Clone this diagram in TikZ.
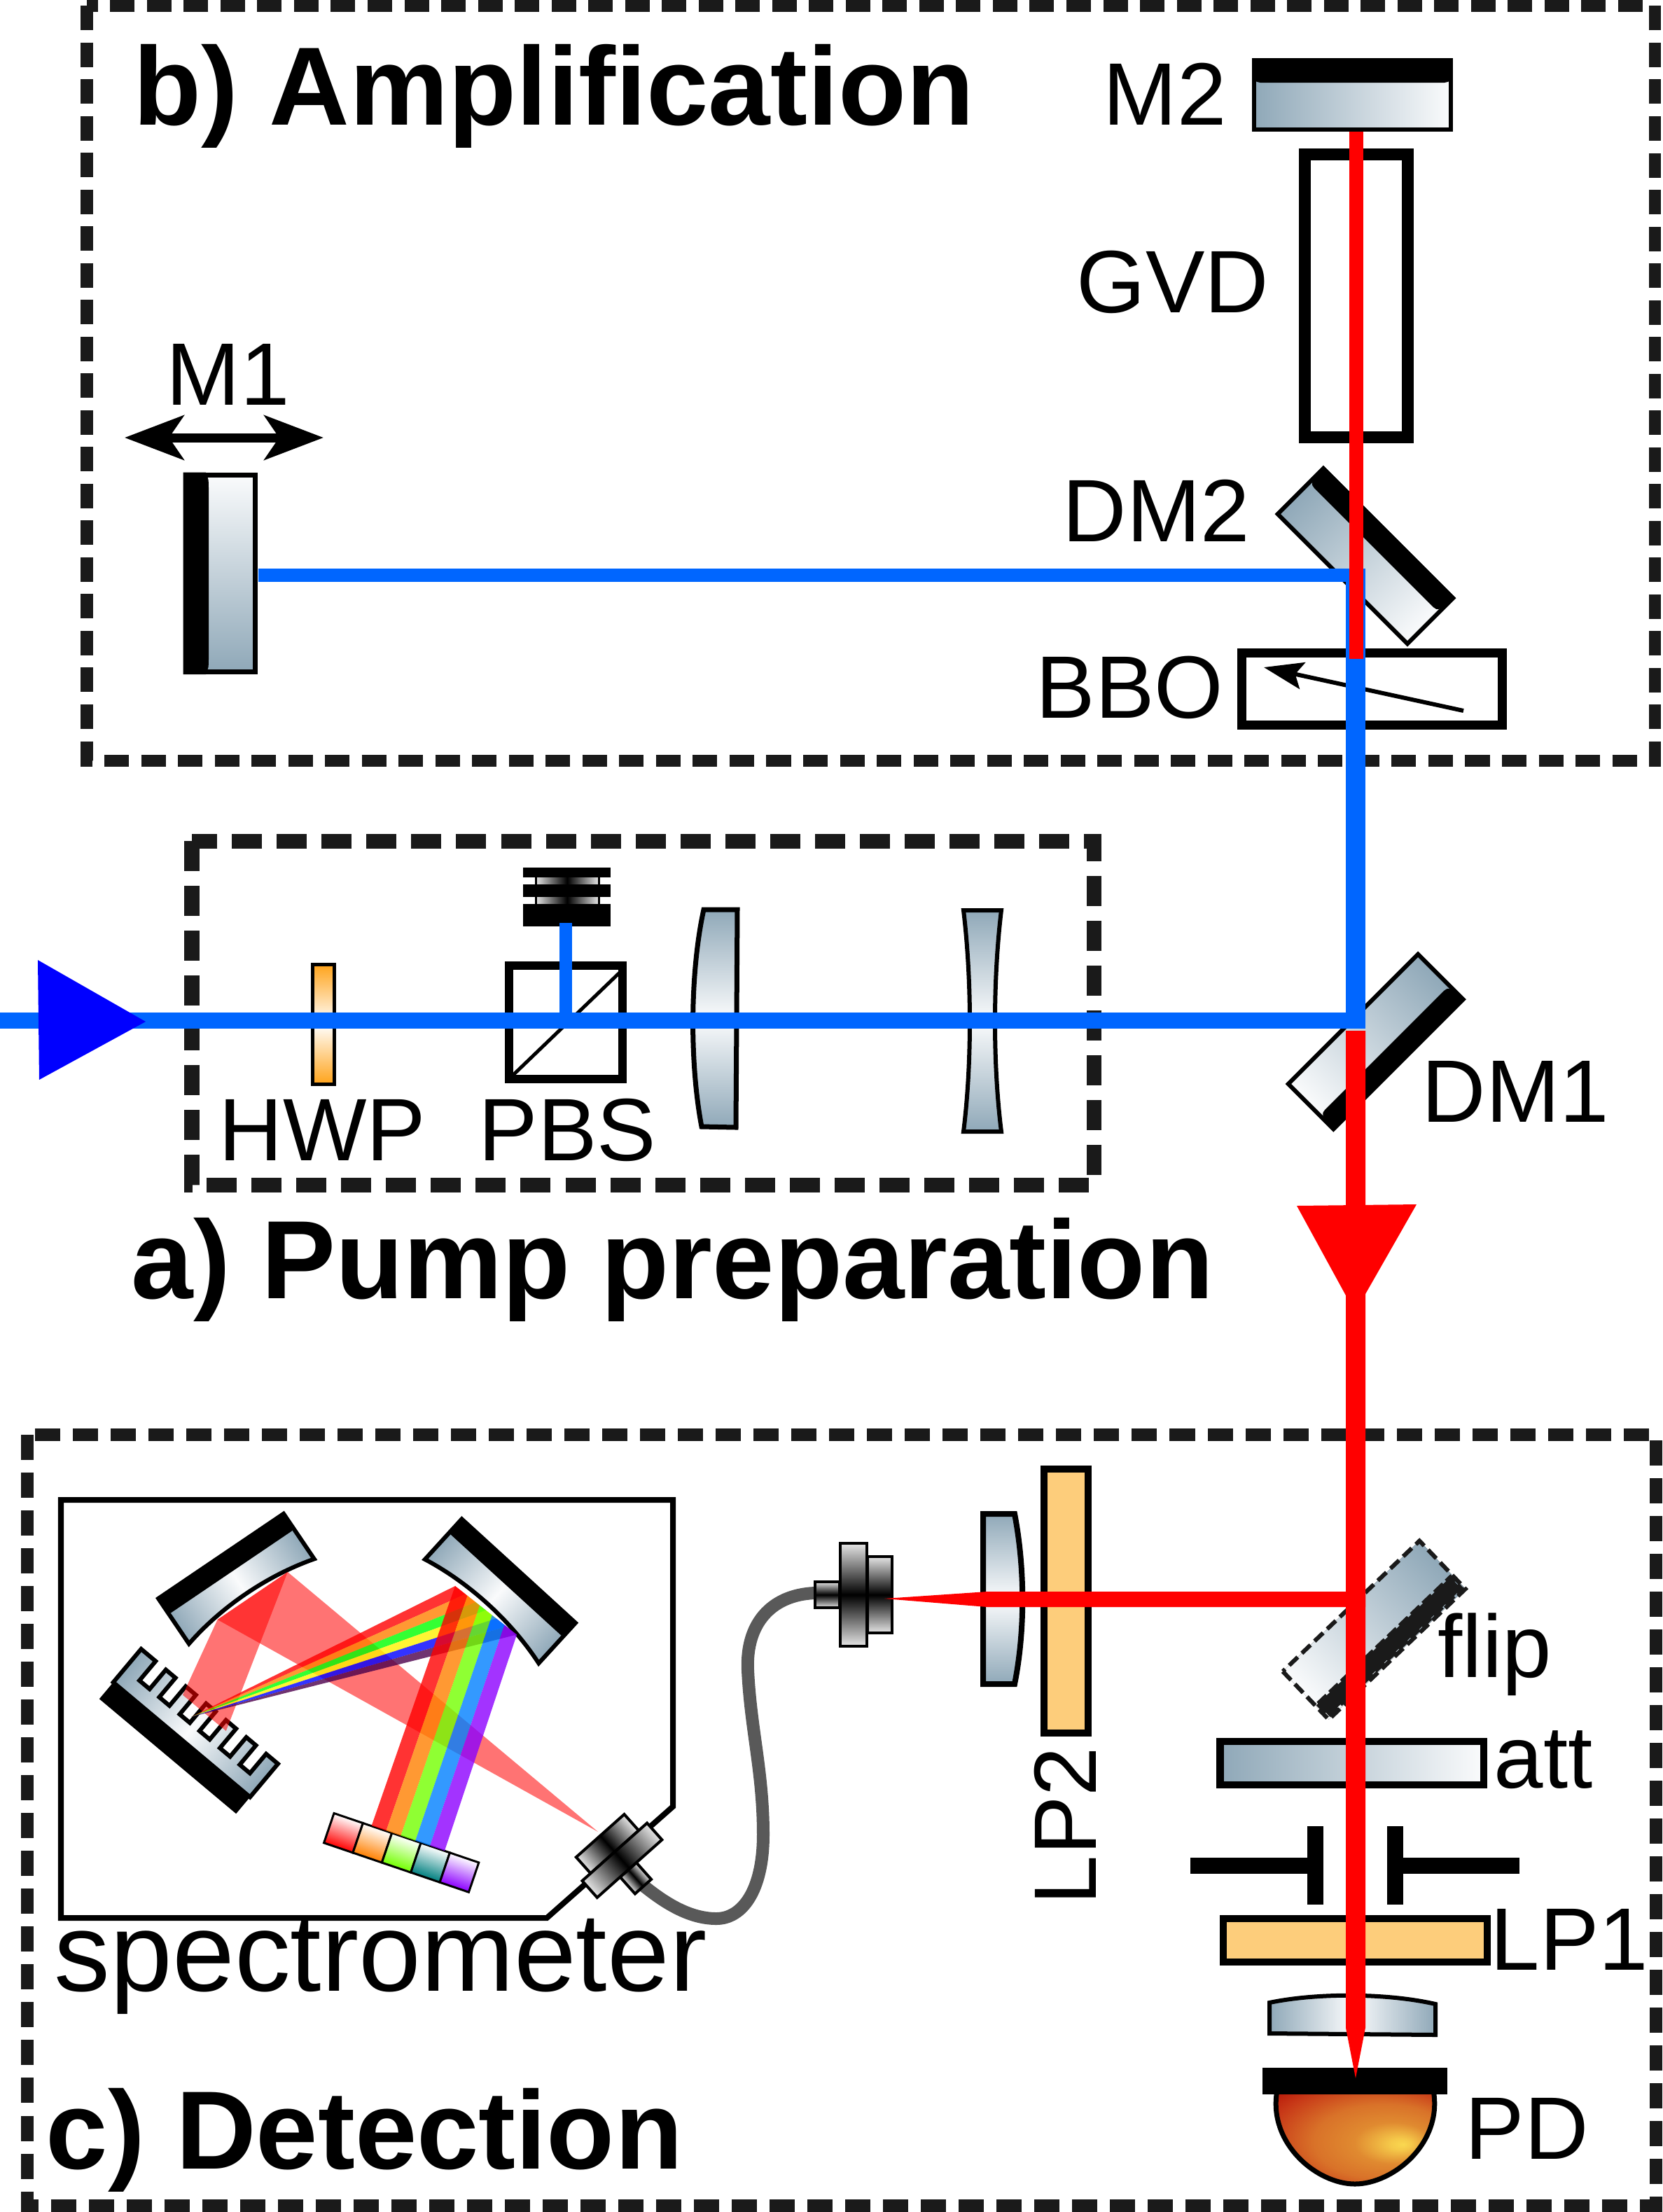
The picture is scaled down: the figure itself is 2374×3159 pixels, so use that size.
\documentclass[tikz,border=0pt]{standalone}
\usepackage{fontspec}
\setmainfont{Liberation Sans}
\usetikzlibrary{arrows.meta}

\newcommand{\pxw}{0.2845pt}
\definecolor{glassgray}{HTML}{8FA8B8}
\definecolor{glasswhite}{HTML}{FAFBFC}
\definecolor{boxdark}{HTML}{1A1A1A}
\definecolor{pumpblue}{HTML}{0066FF}
\definecolor{filterorange}{HTML}{FDCD7B}
\definecolor{hwporange}{HTML}{FFA31A}
\definecolor{specpurple}{HTML}{8C00FF}
\definecolor{pdyellow}{HTML}{FAD850}
\definecolor{pdorange}{HTML}{E08A30}
\definecolor{pdrust}{HTML}{C83A18}
\definecolor{pddark}{HTML}{AE0400}
\pgfdeclareradialshading{pdshade}{\pgfpoint{13.7bp}{-4bp}}{color(0bp)=(pdyellow);color(3bp)=(pdyellow!80!pdorange);color(11bp)=(pdorange);color(20bp)=(pdorange!70!pdrust);color(30bp)=(pdrust);color(40bp)=(pddark);color(50bp)=(pddark)}

\tikzset{
  boxb/.style={draw=boxdark,line width=17*\pxw,dash pattern=on 35*\pxw off 17.5*\pxw},
  boxa/.style={draw=boxdark,line width=21*\pxw,dash pattern=on 43*\pxw off 21*\pxw},
  boxc/.style={draw=boxdark,line width=18*\pxw,dash pattern=on 36*\pxw off 18*\pxw},
  lbl/.style={font=\fontsize{36}{40}\selectfont,anchor=base west,inner sep=0pt},
  lblbig/.style={font=\fontsize{45.4}{50}\selectfont,anchor=base west,inner sep=0pt},
  ttl/.style={font=\fontsize{45.2}{50}\selectfont\bfseries,anchor=base west,inner sep=0pt},
  optic/.style={draw=black,line width=6*\pxw},
  thick box/.style={draw=black,line width=#1*\pxw},
  glasslr/.style={left color=glassgray,right color=glasswhite},
  glassrl/.style={left color=glasswhite,right color=glassgray},
  glasstb/.style={top color=glassgray,bottom color=glassgray,middle color=glasswhite},
  glassends/.style={left color=glassgray,right color=glassgray,middle color=glasswhite},
  metallr/.style={draw=black,line width=4*\pxw,left color=black!10,right color=black!10,middle color=black},
  metaltb/.style={draw=black,line width=4*\pxw,top color=black!10,bottom color=black!10,middle color=black},
  fanred/.style={fill=red,opacity=0.55},
  rainbow/.style={opacity=0.8},
}

\begin{document}
\begin{tikzpicture}[x=0.01cm,y=-0.01cm]
\useasboundingbox (0,0) rectangle (2374,3159);

% dashed frames
\draw[boxb] (124,8) rectangle (2363,1086);
\draw[boxa] (274,1201) rectangle (1562,1692);
\draw[boxc] (39,2049) rectangle (2365,3150);

% labels
\node[ttl] (ttlb) at (190,178) {b) Amplification};
\node[ttl] (ttla) at (187,1854) {a) Pump preparation};
\node[ttl] (ttlc) at (65,3097) {c) Detection};
\node[lbl] (lblmone) at (237,578) {M1};
\node[lbl] (lblmtwo) at (1575,178) {M2};
\node[lbl] (lblgvd) at (1537,446) {GVD};
\node[lbl] (lbldmtwo) at (1517,773) {DM2};
\node[lbl] (lblbbo) at (1479,1025) {BBO};
\node[lbl] (lbldmone) at (2030,1602) {DM1};
\node[lbl] (lblhwp) at (312,1657) {HWP};
\node[lbl] (lblpbs) at (683,1657) {PBS};
\node[lblbig] (lblspec) at (77,2843) {spectrometer};
\node[lbl] (lblflip) at (2053,2395) {flip};
\node[lbl] (lblatt) at (2133,2553) {att};
\node[lbl] (lbllpone) at (2128,2813) {LP1};
\node[lbl] (lblpd) at (2092,3083) {PD};
\node[lbl,rotate=90] (lbllptwo) at (1565,2721) {LP2};

% M1 with its travel arrow
\coordinate (travell) at (178,625);
\coordinate (travelr) at (462,625);
\draw[line width=13*\pxw,{Stealth[length=24pt,width=18pt,inset=6pt]}-{Stealth[length=24pt,width=18pt,inset=6pt]}] (travell) -- (travelr);
\draw[draw=black,line width=7*\pxw,top color=glasswhite,bottom color=glassgray] (265,678) rectangle (364.5,959.5);
\fill (261.5,674.5) -- (294,674.5) .. controls (298,685) .. (298,697) -- (298,941) .. controls (298,953) .. (294,963) -- (261.5,963) -- cycle;

% M2, GVD
\draw[optic,glasslr] (1791,86) rectangle (2072,185);
\fill (1788,83) -- (2075,83) -- (2073,108) .. controls (2072,116) .. (2063,118) -- (1800,118) .. controls (1791,116) .. (1790,108) -- cycle;
\draw[thick box=17] (1863.5,220.5) rectangle (2010.5,624.5);

% DM2
\begin{scope}[transform canvas={shift={(1820.5,734)},rotate=-45}]
  \draw[optic,glasslr] (3,-95) rectangle (265,-3);
  \fill (0,-98) -- (268,-98) -- (262,-70) .. controls (260,-67) .. (254,-66) -- (14,-66) .. controls (8,-67) .. (6,-70) -- cycle;
\end{scope}

% BBO
\draw[thick box=13] (1773,932) rectangle (2145.5,1035.5);
\coordinate (axisa) at (2090,1015);
\coordinate (axisb) at (1805,953);
\draw[line width=6*\pxw,-{Stealth[length=16pt,width=11pt,inset=3pt]}] (axisa) -- (axisb);

% DM1
\begin{scope}[transform canvas={shift={(1835.7,1548)},rotate=45}]
  \draw[optic,glassrl] (3,3) rectangle (265,94);
  \fill (0,97) -- (268,97) -- (262,70) .. controls (260,67) .. (254,66) -- (14,66) .. controls (8,67) .. (6,70) -- cycle;
\end{scope}

% pump preparation
\draw[draw=black,line width=5*\pxw,top color=hwporange,bottom color=hwporange,middle color=white] (446,1377) rectangle (477,1548);
\draw[thick box=12] (727,1379) rectangle (889,1541);
\draw[line width=5*\pxw] (889,1385) -- (733,1535);
\draw[metallr,line width=3*\pxw] (765,1250) rectangle (855,1295);
\fill (747,1239) rectangle (872,1252.5);
\fill (747,1263) rectangle (872,1281);
\fill (747,1291) rectangle (872,1323);
\draw[draw=black,line width=7*\pxw,glasstb] (1053,1299) -- (1051,1610) -- (1002,1609) .. controls (985,1520) and (985,1390) .. (1005,1299) -- cycle;
\draw[optic,glasstb] (1376,1300) -- (1430,1300) .. controls (1418,1400) and (1418,1520) .. (1430,1616) -- (1376,1616) .. controls (1388,1520) and (1388,1400) .. cycle;

% spectrometer housing
\draw[line width=8*\pxw] (87,2142) -- (961,2142) -- (961,2580) -- (781,2739) -- (87,2739) -- cycle;

% curved mirrors
\foreach \mx/\my/\mrot/\mlen in {224.5/2284/34.1/220,658/2168/-42.4/224} {
  \begin{scope}[transform canvas={shift={(\mx,\my)},rotate=\mrot}]
    \draw[optic,glassends] (2,0) -- ({\mlen-2},0) -- ({\mlen-2},78) .. controls ({\mlen*0.68},60) and ({\mlen*0.32},60) .. (2,78) -- cycle;
    \fill (0,-2) -- (\mlen,-2) -- ({\mlen-5},27) -- (5,27) -- cycle;
  \end{scope}
}

% grating
\begin{scope}[transform canvas={shift={(201.6,2355)},rotate=-40}]
  \draw[optic,glassends] (0,0) \foreach \g in {27,64,102,139,177,214} { -- (\g,0) -- (\g,36) -- ({\g+19},36) -- ({\g+19},0) } -- (255,0) -- (255,62) -- (0,62) -- cycle;
  \fill (0,60) rectangle (255,93);
\end{scope}

% detector strip
\begin{scope}[transform canvas={shift={(477,2589.5)},rotate=-18.8}]
  \foreach \i/\col in {0/red,1/orange,2/green!55!yellow,3/teal,4/specpurple} {
    \draw[line width=3*\pxw,top color=white,bottom color=\col] ({\i*43.7},0) rectangle ({(\i+1)*43.7},44.7);
  }
\end{scope}

% beams in the spectrometer
\coordinate (tipin) at (854,2616);
\fill[fanred] (tipin) -- (410.8,2245) -- (310.6,2313) -- cycle;
\fill[fanred] (410.8,2245) -- (310.6,2313) -- (261,2420.6) -- (322.8,2472) -- cycle;
\coordinate (gratspot) at (273.6,2451.7);
\foreach \i/\col in {0/red,1/orange,2/green,3/yellow,4/blue,5/violet!60!black} {
  \fill[rainbow,\col] (gratspot) -- ({650+\i*14.67},{2265+\i*11.57}) -- ({650+(\i+1)*14.67},{2265+(\i+1)*11.57}) -- cycle;
}
\foreach \i/\col in {0/red,1/orange,2/green!55!yellow,3/blue!50!cyan,4/specpurple} {
  \fill[rainbow,\col] ({530.7+\i*20.86},{2607.2+\i*7.16}) -- ({650+\i*17.6},{2265+\i*13.9}) -- ({650+(\i+1)*17.6},{2265+(\i+1)*13.9}) -- ({530.7+(\i+1)*20.86},{2607.2+(\i+1)*7.16}) -- cycle;
}

% fibre and its two ends
\coordinate (fibrea) at (1163,2275);
\coordinate (fibreb) at (919,2693);
\draw[line width=18*\pxw,black!65] (fibrea) .. controls (1100,2278) and (1065,2320) .. (1068,2385) .. controls (1072,2470) and (1090,2530) .. (1090,2620) .. controls (1090,2700) and (1060,2740) .. (1023,2740) .. controls (985,2740) and (950,2718) .. (fibreb);
\begin{scope}[transform canvas={shift={(831.5,2686)},rotate=41.7}]
  \draw[metallr] (44,32) rectangle (75,64);
  \draw[metallr] (16,-31) rectangle (108,0);
  \draw[metallr] (0,0) rectangle (124,32);
\end{scope}
\draw[metaltb] (1164,2259) rectangle (1199,2296);
\draw[metaltb] (1239,2223) rectangle (1274,2332);
\draw[metaltb] (1200,2204) rectangle (1238,2351);

% detection arm
\begin{scope}[transform canvas={shift={(1832,2387)},rotate=43.7}]
  \fill[glassrl] (0,0) rectangle (270,95);
  \draw[boxdark,fill=boxdark,line width=6*\pxw,dash pattern=on 17*\pxw off 6*\pxw] (4,68) rectangle (266,91);
  \draw[boxdark,line width=6*\pxw,dash pattern=on 17*\pxw off 8*\pxw] (0,0) rectangle (270,95);
\end{scope}
\draw[thick box=10.5,glasslr] (1742.5,2487) rectangle (2119,2549);
\fill (1700,2653) rectangle (1867,2676);
\fill (1867,2608) rectangle (1890,2720);
\fill (1981,2608) rectangle (2004,2720);
\fill (2004,2653) rectangle (2170,2676);
\draw[thick box=10.5,fill=filterorange] (1747,2740) rectangle (2124,2802);
\draw[optic,glassends] (1813,2860) .. controls (1880,2846) and (1980,2846) .. (2050,2862) -- (2050,2906) -- (1813,2904) -- cycle;
\draw[line width=7*\pxw,shading=pdshade] (1824,2985) .. controls (1810,3060) and (1880,3119) .. (1935,3119) .. controls (1990,3119) and (2061,3060) .. (2047,2985) -- cycle;
\fill (1803,2953) rectangle (2067,2990.5);

% coupling lens and LP2
\draw[draw=black,line width=8*\pxw,glasstb] (1404,2162) -- (1449,2162) .. controls (1464,2240) and (1464,2330) .. (1449,2405) -- (1404,2405) -- cycle;
\draw[thick box=10,fill=filterorange] (1491,2098) rectangle (1554,2475);

% blue beam
\coordinate (pumpstart) at (0,1457.5);
\coordinate (pumpturn) at (1950,1457.5);
\draw[pumpblue,line width=23*\pxw] (pumpstart) -- (pumpturn);
\fill[blue] (54,1371) -- (208,1459) -- (56,1542) -- cycle;
\coordinate (dumpin) at (808,1318);
\coordinate (dumpout) at (808,1447);
\draw[pumpblue,line width=18*\pxw] (dumpin) -- (dumpout);
\coordinate (blueup) at (1936,812);
\coordinate (bluedown) at (1936,1469);
\draw[pumpblue,line width=28*\pxw] (blueup) -- (bluedown);
\coordinate (mirrorhit) at (369,821);
\coordinate (crystalhit) at (1949,821);
\draw[pumpblue,line width=19*\pxw] (mirrorhit) -- (crystalhit);

% red beam
\coordinate (sigtop) at (1937,188);
\coordinate (sigbbo) at (1937,941);
\draw[red,line width=20*\pxw] (sigtop) -- (sigbbo);
\fill[red] (1263,2283) -- (1410,2273) -- (1950,2273) -- (1950,2295) -- (1410,2295) -- cycle;
\fill[red] (1922,1472) -- (1950,1472) -- (1950,2896) -- (1936,2968) -- (1922,2896) -- cycle;
\fill[red] (1852,1722) -- (2023,1720) -- (1950,1848) -- (1922,1850) -- cycle;

\end{tikzpicture}
\end{document}
